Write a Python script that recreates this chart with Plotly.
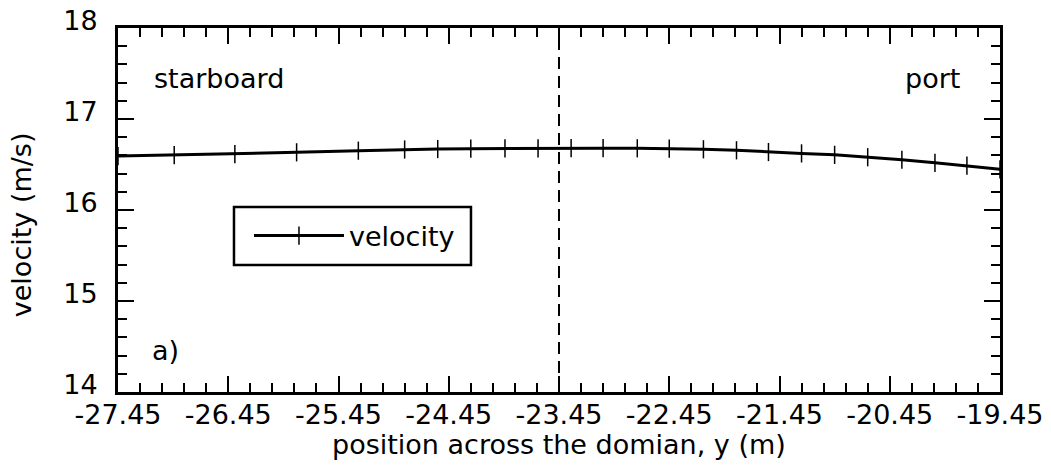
import plotly.graph_objects as go

# Cross-domain velocity profile
position_y = [-27.45, -26.94, -26.39, -25.83, -25.27, -24.85, -24.55, -24.25,
              -23.94, -23.64, -23.34, -23.05, -22.74, -22.45, -22.14, -21.84,
              -21.55, -21.25, -20.95, -20.65, -20.34, -20.04, -19.75, -19.45]
velocity = [16.593, 16.604, 16.615, 16.634, 16.652, 16.665, 16.670, 16.674,
            16.677, 16.678, 16.679, 16.679, 16.678, 16.675, 16.667, 16.656,
            16.637, 16.622, 16.606, 16.580, 16.552, 16.518, 16.487, 16.447]

x_ticks = [-27.45, -26.45, -25.45, -24.45, -23.45, -22.45, -21.45, -20.45, -19.45]
x_tick_labels = ["-27.45", "-26.45", "-25.45", "-24.45", "-23.45",
                 "-22.45", "-21.45", "-20.45", "-19.45"]
y_ticks = [14, 15, 16, 17, 18]
centerline_y = -23.45

FONT = "DejaVu Sans"
FS = 27

fig = go.Figure()
fig.add_trace(go.Scatter(
    x=position_y, y=velocity, mode="lines+markers", name="velocity",
    line=dict(color="black", width=3),
    marker=dict(symbol="line-ns", size=13, color="black",
                line=dict(color="black", width=1.5)),
))

# dashed centreline
fig.add_shape(type="line", xref="x", yref="y",
              x0=centerline_y, x1=centerline_y, y0=14, y1=18,
              line=dict(color="black", width=2, dash="12px,7px"))

# frame around the legend
fig.add_shape(type="rect", xref="paper", yref="paper",
              x0=0.1315, x1=0.4002, y0=0.3489, y1=0.5082,
              line=dict(color="black", width=2.5), fillcolor="rgba(0,0,0,0)")

axis_common = dict(
    showline=True, linecolor="black", linewidth=3, mirror="allticks",
    ticks="inside", tickcolor="black", tickwidth=2, ticklen=16,
    showgrid=False, zeroline=False, automargin=False,
    tickfont=dict(family=FONT, size=FS, color="black"),
)

fig.update_xaxes(
    range=[-27.45, -19.45], tickvals=x_ticks, ticktext=x_tick_labels,
    minor=dict(ticks="inside", dtick=0.2, tick0=-27.45, ticklen=9,
               tickwidth=2, tickcolor="black", showgrid=False),
    ticklabelstandoff=-3,
    **axis_common,
)
fig.update_yaxes(
    range=[14, 18], tickvals=y_ticks,
    minor=dict(ticks="inside", dtick=0.2, tick0=14, ticklen=9,
               tickwidth=2, tickcolor="black", showgrid=False),
    ticklabelshift=-7, ticklabelstandoff=12,
    **axis_common,
)

# axis titles
fig.add_annotation(text="position across the domian, y (m)", xref="paper", yref="paper",
                   x=0.5, y=-0.1442, xanchor="center", yanchor="middle",
                   showarrow=False, font=dict(family=FONT, size=FS, color="black"))
fig.add_annotation(text="velocity (m/s)", xref="paper", yref="paper",
                   x=-0.1085, y=0.459, xanchor="center", yanchor="middle",
                   textangle=-90, showarrow=False,
                   font=dict(family=FONT, size=FS, color="black"))

labels = [("starboard", 0.0385, 0.86), ("port", 0.8895, 0.86), ("a)", 0.0363, 0.115)]
for text, xp, yp in labels:
    fig.add_annotation(text=text, xref="paper", yref="paper", x=xp, y=yp,
                       xanchor="left", yanchor="middle", showarrow=False,
                       font=dict(family=FONT, size=FS, color="black"))

fig.update_layout(
    width=1051, height=473,
    margin=dict(l=118, r=51, t=28, b=81),
    paper_bgcolor="white", plot_bgcolor="white",
    font=dict(family=FONT, size=FS, color="black"),
    showlegend=True,
    legend=dict(x=0.1485, y=0.4286, xanchor="left", yanchor="middle",
                bgcolor="rgba(0,0,0,0)", borderwidth=0,
                itemwidth=90, font=dict(family=FONT, size=FS, color="black")),
)

fig.write_html("out.html")
